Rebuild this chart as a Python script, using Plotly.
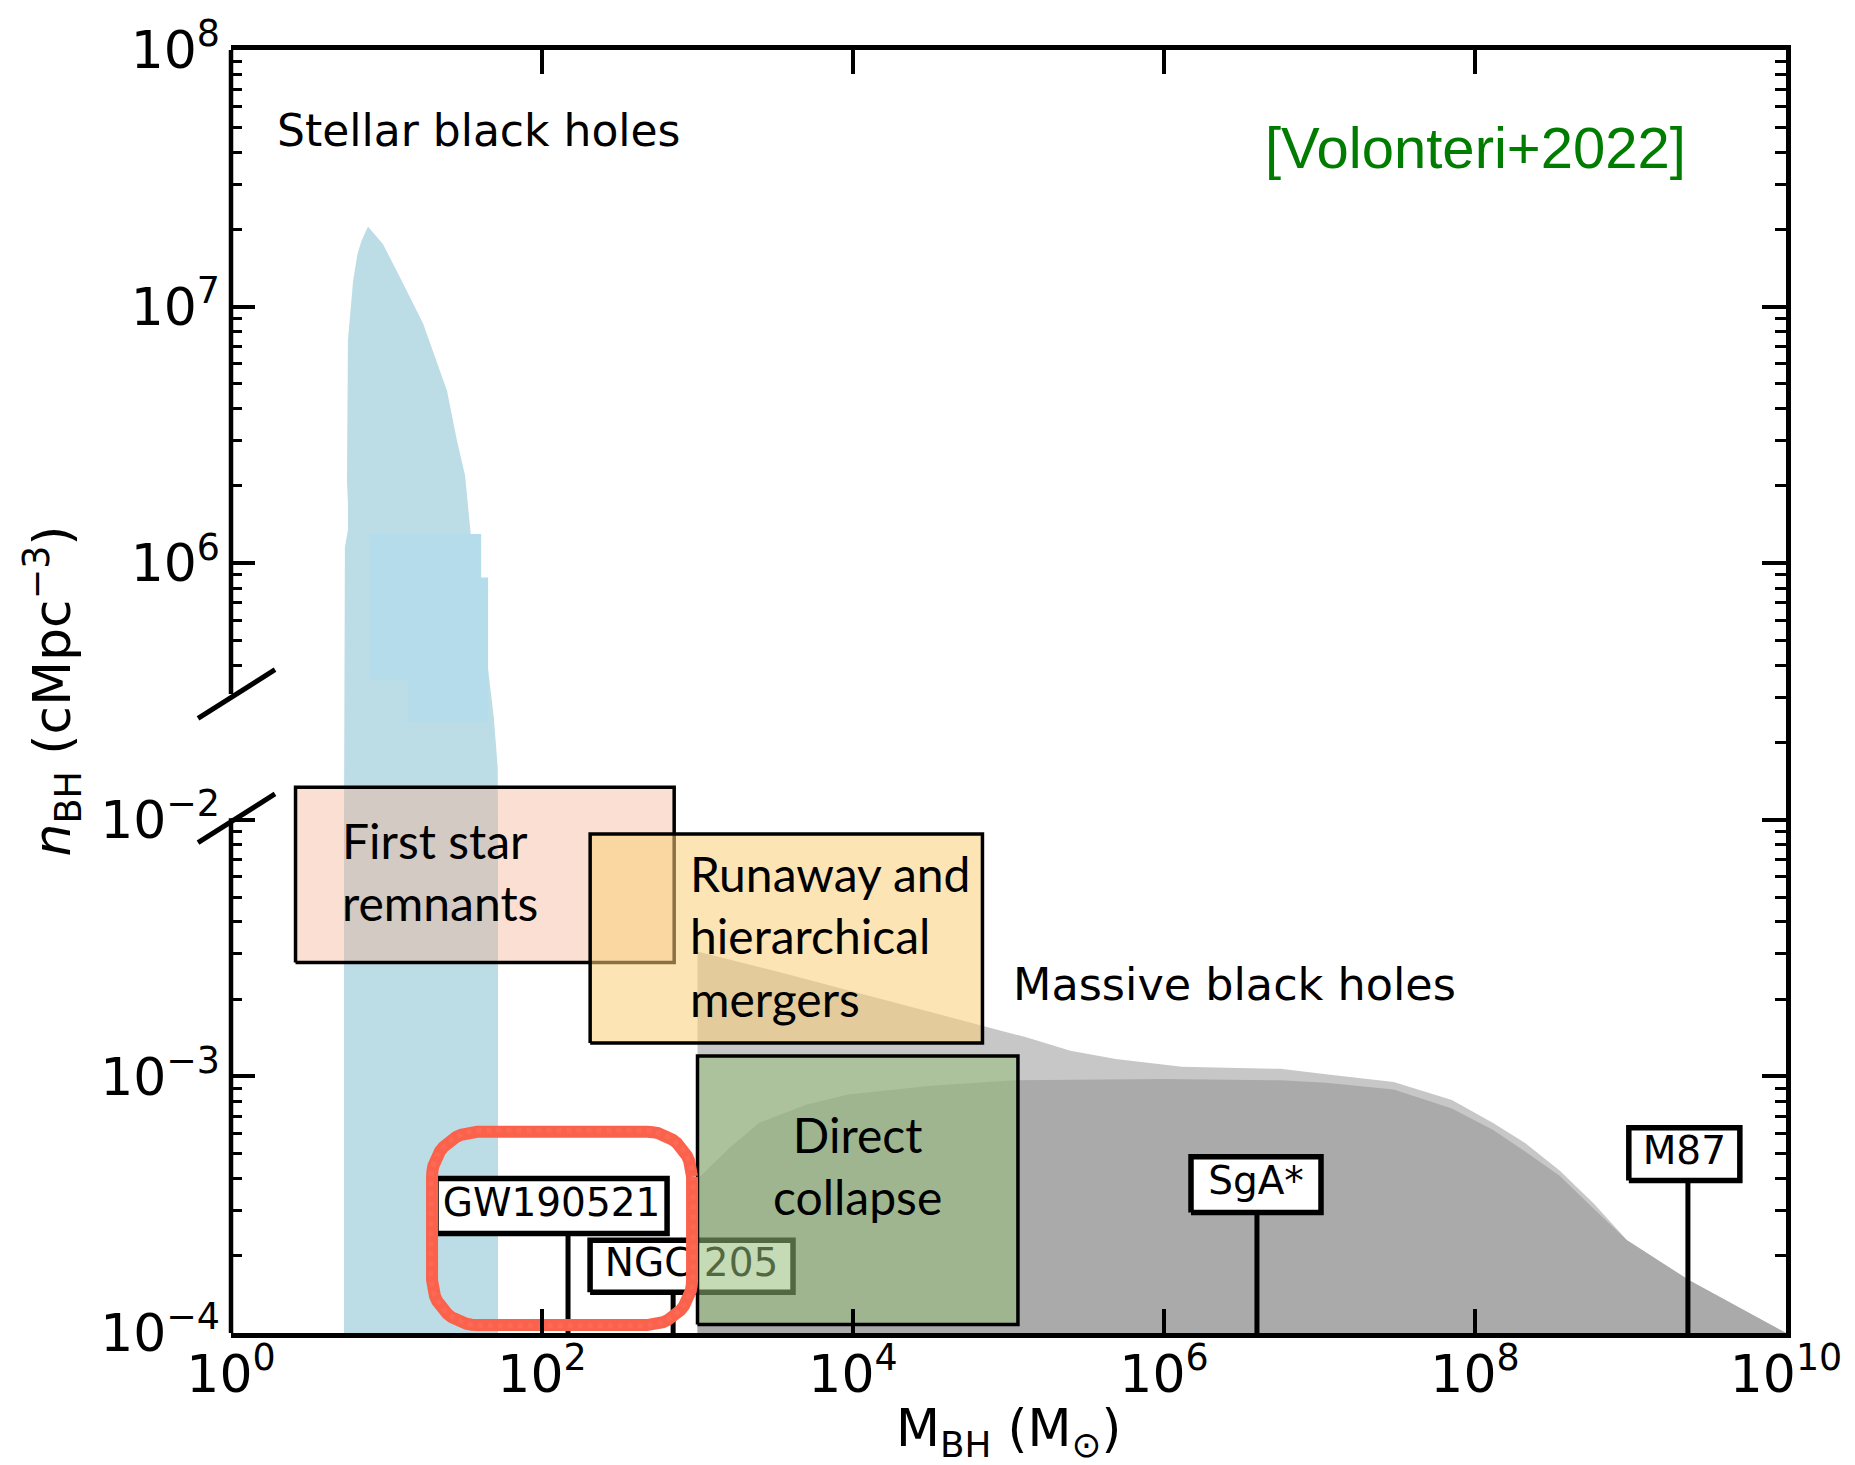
import numpy as np
import plotly.graph_objects as go

# ---------------------------------------------------------------- data
# Stellar black holes: upper envelope (upper y-segment, cMpc^-3)
stellar_M_upper = [5.4, 5.65, 5.65, 5.57, 5.65, 6.1, 6.5, 6.9, 7.6, 8.5, 9.5, 12.2,
                   17.2, 24.5, 28.4, 32.0, 34.4, 36.3, 39.8, 44.7, 49.0, 51.9]
stellar_n_upper = [1.15e6, 1.35e6, 1.7e6, 2.1e6, 7.4e6, 1.26e7, 1.6e7, 1.8e7, 2.05e7,
                   1.9e7, 1.75e7, 1.3e7, 8.6e6, 4.7e6, 3.0e6, 2.2e6, 1.45e6, 1.0e6,
                   6.3e5, 4.0e5, 2.5e5, 1.6e5]
# Stellar black holes: band in the lower y-segment
stellar_M_band = [5.33, 52.1]
stellar_n_band = [1e-4, 1e-2]
# lighter patch inside the stellar region
patch_M = [7.83, 40.6, 40.6, 45.0, 45.0, 13.7, 13.7, 7.83]
patch_n = [1.3e6, 1.3e6, 8.8e5, 8.8e5, 2.4e5, 2.4e5, 3.5e5, 3.5e5]

# Massive black holes: outer (light) envelope
massive_M_outer = [1e3, 3.2e3, 1e4, 3.2e4, 6.9e4, 1.3e5, 2.5e5, 4.9e5, 1.3e6, 5.6e6,
                   1.1e7, 3.0e7, 7.1e7, 1.3e8, 2.1e8, 3.5e8, 5.8e8, 9.5e8, 2.4e9, 1e10]
massive_n_outer = [3.07e-3, 2.57e-3, 2.14e-3, 1.78e-3, 1.57e-3, 1.42e-3, 1.26e-3, 1.17e-3,
                   1.09e-3, 1.07e-3, 1.02e-3, 9.5e-4, 8.1e-4, 6.6e-4, 5.5e-4, 4.3e-4,
                   3.2e-4, 2.3e-4, 1.6e-4, 1e-4]
# Massive black holes: inner (dark) envelope
massive_M_inner = [1e3, 1.6e3, 2.5e3, 5e3, 9.3e3, 3.2e4, 1.1e5, 1e6, 5.6e6, 1.1e7, 3.0e7,
                   7.1e7, 1.3e8, 2.1e8, 3.5e8, 5.8e8, 9.5e8, 2.4e9, 1e10]
massive_n_inner = [3.98e-4, 5.25e-4, 6.6e-4, 7.76e-4, 8.5e-4, 9.2e-4, 9.66e-4, 9.77e-4,
                   9.66e-4, 9.44e-4, 8.9e-4, 7.5e-4, 6.2e-4, 5.1e-4, 4.1e-4, 3.05e-4,
                   2.3e-4, 1.6e-4, 1e-4]

# Formation channels (boxes)
channel_names = ["First star<br>remnants", "Runaway and<br>hierarchical<br>mergers",
                 "Direct<br>collapse"]
channel_M_lo = [2.6, 204, 1.0e3]
channel_M_hi = [708, 6.8e4, 1.15e5]
channel_n_lo = [2.78e-3, 1.35e-3, 1.08e-4]
channel_n_hi = [1.34e-2, 8.8e-3, 1.2e-3]

# Individual objects
object_names = ["GW190521", "NGC 205", "SgA*", "M87"]
object_M = [147, 697, 3.96e6, 2.34e9]

# Ticks
x_tickvals = [1e0, 1e2, 1e4, 1e6, 1e8, 1e10]
x_ticktext = ["10<sup>0</sup>", "10<sup>2</sup>", "10<sup>4</sup>", "10<sup>6</sup>",
              "10<sup>8</sup>", "10<sup>10</sup>"]
y_tickvals = [1e-4, 1e-3, 1e-2, 1e6, 1e7, 1e8]
y_ticktext = ["10<sup>−4</sup>", "10<sup>−3</sup>", "10<sup>−2</sup>",
              "10<sup>6</sup>", "10<sup>7</sup>", "10<sup>8</sup>"]
y_minor_left = ([k * 1e-4 for k in range(2, 10)] + [k * 1e-3 for k in range(2, 10)] +
                [k * 1e5 for k in range(4, 10)] + [k * 1e6 for k in range(2, 10)] +
                [k * 1e7 for k in range(2, 10)])
y_minor_right = ([k * 1e-4 for k in range(2, 10)] + [k * 1e-3 for k in range(2, 10)] +
                 [k * 1e5 for k in range(2, 10)] + [k * 1e6 for k in range(2, 10)] +
                 [k * 1e7 for k in range(2, 10)])


# ------------------------------------------------ broken y-axis transform
def yv(n):
    """lower segment 1e-4..1e-2 -> 0..2, upper segment 1e5..1e8 -> 2..5"""
    L = np.log10(np.asarray(n, dtype=float))
    return np.where(L < 0, L + 4.0, L - 3.0)


FONT = "DejaVu Sans"
fig = go.Figure()

# stellar black holes
st_M = [stellar_M_band[0], stellar_M_band[0]] + stellar_M_upper + [stellar_M_band[1], stellar_M_band[1]]
st_n = [stellar_n_band[0], stellar_n_band[1]] + stellar_n_upper + [stellar_n_band[1], stellar_n_band[0]]
fig.add_trace(go.Scatter(x=st_M, y=yv(st_n), mode="lines", fill="toself",
                         fillcolor="rgb(188,221,230)", line=dict(width=0),
                         hoverinfo="skip"))
fig.add_trace(go.Scatter(x=patch_M, y=yv(patch_n), mode="lines", fill="toself",
                         fillcolor="rgb(180,220,235)", line=dict(width=0),
                         hoverinfo="skip"))

# massive black holes
for Ms, ns, col in [(massive_M_outer, massive_n_outer, "rgb(199,199,199)"),
                    (massive_M_inner, massive_n_inner, "rgb(170,170,170)")]:
    xs = [Ms[0]] + Ms + [Ms[-1]]
    ys = [1e-4] + ns + [1e-4]
    fig.add_trace(go.Scatter(x=xs, y=yv(ys), mode="lines", fill="toself",
                             fillcolor=col, line=dict(width=0), hoverinfo="skip"))

channel_fill = ["rgba(245,175,145,0.40)", "rgba(250,205,120,0.55)", "rgba(150,190,120,0.55)"]


def add_box(i):
    x0, x1 = channel_M_lo[i], channel_M_hi[i]
    y0, y1 = yv(channel_n_lo[i]), yv(channel_n_hi[i])
    fig.add_trace(go.Scatter(x=[x0, x1, x1, x0, x0], y=[y0, y0, y1, y1, y0],
                             mode="lines", fill="toself", fillcolor=channel_fill[i],
                             line=dict(color="black", width=3.5), hoverinfo="skip"))


# label box geometry: offsets (decades) of box edges from the stem, and box v-extent
label_box = {
    "GW190521": dict(dx=(-0.849, 0.637), v=(0.388, 0.602)),
    "NGC 205": dict(dx=(-0.534, 0.771), v=(0.159, 0.361)),
    "SgA*": dict(dx=(-0.424, 0.412), v=(0.470, 0.687)),
    "M87": dict(dx=(-0.380, 0.334), v=(0.594, 0.800)),
}


def add_label(name):
    i = object_names.index(name)
    lm = np.log10(object_M[i])
    g = label_box[name]
    bx0, bx1 = 10 ** (lm + g["dx"][0]), 10 ** (lm + g["dx"][1])
    by0, by1 = g["v"]
    fig.add_trace(go.Scatter(x=[object_M[i], object_M[i]], y=[yv(1e-4), by0], mode="lines",
                             line=dict(color="black", width=5), hoverinfo="skip"))
    fig.add_trace(go.Scatter(x=[bx0, bx1, bx1, bx0, bx0], y=[by0, by0, by1, by1, by0],
                             mode="lines", fill="toself", fillcolor="white",
                             line=dict(color="black", width=5.5), hoverinfo="skip"))
    fig.add_trace(go.Scatter(x=[10 ** ((np.log10(bx0) + np.log10(bx1)) / 2)],
                             y=[(by0 + by1) / 2], mode="text", text=[name],
                             textposition="middle center",
                             textfont=dict(family=FONT, size=39, color="black"),
                             hoverinfo="skip"))


add_box(0)
add_box(1)
add_label("NGC 205")
add_label("GW190521")
add_box(2)
add_label("SgA*")
add_label("M87")


# red hand-drawn highlight (rounded rectangle)
def rounded_rect(lx0, lx1, v0, v1, rx, ry, n=14):
    xs, ys = [], []
    corners = [(lx1 - rx, v1 - ry, 0, 90), (lx0 + rx, v1 - ry, 90, 180),
               (lx0 + rx, v0 + ry, 180, 270), (lx1 - rx, v0 + ry, 270, 360)]
    for cx, cy, a0, a1 in corners:
        for t in np.linspace(np.radians(a0), np.radians(a1), n):
            xs.append(10 ** (cx + rx * np.cos(t)))
            ys.append(cy + ry * np.sin(t))
    xs.append(xs[0]); ys.append(ys[0])
    return xs, ys


px_dec_x = 1555 / 10.0
px_unit_y = 1288 / 5.0
hx, hy = rounded_rect(1.293, 2.965, 0.031, 0.784, 45 / px_dec_x, 45 / px_unit_y)
fig.add_trace(go.Scatter(x=hx, y=hy, mode="lines",
                         line=dict(color="rgb(250,98,76)", width=12), hoverinfo="skip"))
hx2, hy2 = rounded_rect(1.285, 2.972, 0.028, 0.790, 50 / px_dec_x, 50 / px_unit_y)
fig.add_trace(go.Scatter(x=hx2, y=hy2, mode="lines", opacity=0.6,
                         line=dict(color="rgb(255,110,90)", width=5, dash="dot"),
                         hoverinfo="skip"))

# dummy trace for right axis
fig.add_trace(go.Scatter(x=[1e5], y=[1], yaxis="y2", mode="markers",
                         marker=dict(opacity=0), hoverinfo="skip"))

# ---------------------------------------------------------------- axes
tick_font = dict(family=FONT, size=52, color="black")
fig.update_layout(
    width=1855, height=1465, autosize=False,
    margin=dict(l=231, r=69, t=45, b=132),
    paper_bgcolor="white", plot_bgcolor="white", showlegend=False,
    xaxis=dict(type="log", range=[0, 10], tickvals=x_tickvals, ticktext=x_ticktext,
               ticks="inside", ticklen=24, tickwidth=3.5, tickcolor="black",
               showline=True, linewidth=4.5, linecolor="black", mirror="ticks",
               showgrid=False, zeroline=False, tickfont=tick_font, ticklabelstandoff=-8),
    yaxis=dict(range=[0, 5], tickvals=list(yv(y_tickvals)), ticktext=y_ticktext,
               ticks="inside", ticklen=24, tickwidth=3.5, tickcolor="black",
               minor=dict(tickvals=list(yv(y_minor_left)), ticks="inside", ticklen=11,
                          tickwidth=3, tickcolor="black"),
               showline=False, showgrid=False, zeroline=False, tickfont=tick_font,
               ticklabelstandoff=10),
    yaxis2=dict(range=[0, 5], overlaying="y", side="right", tickvals=list(yv(y_tickvals)),
                showticklabels=False, ticks="inside", ticklen=24, tickwidth=3.5,
                tickcolor="black",
                minor=dict(tickvals=list(yv(y_minor_right)), ticks="inside", ticklen=11,
                           tickwidth=3, tickcolor="black"),
                showline=True, linewidth=4.5, linecolor="black",
                showgrid=False, zeroline=False),
)

# left axis line with a break
brk_lo, brk_hi = 2.006, 2.49
for a, b in [(0, brk_lo), (brk_hi, 5)]:
    fig.add_shape(type="line", xref="paper", yref="y", x0=0, x1=0, y0=a, y1=b,
                  line=dict(color="black", width=4.5), layer="above")
for c in (brk_lo, brk_hi):
    fig.add_shape(type="line", xref="paper", yref="y", x0=-0.0212, x1=0.0283,
                  y0=c - 0.095, y1=c + 0.095, line=dict(color="black", width=5),
                  layer="above")

# ---------------------------------------------------------------- text
ann = []
ann.append(dict(x=0.283, y=4.685, xref="x", yref="y", text="Stellar black holes",
                xanchor="left", yanchor="middle", showarrow=False,
                font=dict(family=FONT, size=44, color="black")))
ann.append(dict(x=5.016, y=1.36, xref="x", yref="y", text="Massive black holes",
                xanchor="left", yanchor="middle", showarrow=False,
                font=dict(family=FONT, size=44.5, color="black")))
ann.append(dict(x=8.0, y=4.62, xref="x", yref="y", text="[Volonteri+2022]",
                xanchor="center", yanchor="middle", showarrow=False,
                font=dict(family="Liberation Sans", size=58, color="rgb(0,125,0)")))
box_font = dict(family="Lato", size=48, color="black")
ann.append(dict(x=0.70, y=1.80, xref="x", yref="y", text=channel_names[0],
                xanchor="left", yanchor="middle", align="left", showarrow=False,
                font=box_font))
ann.append(dict(x=2.94, y=1.549, xref="x", yref="y", text=channel_names[1],
                xanchor="left", yanchor="middle", align="left", showarrow=False,
                font=box_font))
ann.append(dict(x=4.032, y=0.652, xref="x", yref="y", text=channel_names[2],
                xanchor="center", yanchor="middle", align="center", showarrow=False,
                font=box_font))
ann.append(dict(x=0.5, y=-0.077, xref="paper", yref="paper",
                text="M<sub>BH</sub> (M<sub>⊙</sub>)", xanchor="center", yanchor="middle",
                showarrow=False, font=dict(family=FONT, size=51, color="black")))
ann.append(dict(x=-0.1151, y=0.5, xref="paper", yref="paper",
                text="<i>n</i><sub>BH</sub> (cMpc<sup>−3</sup>)", textangle=-90,
                xanchor="center", yanchor="middle", showarrow=False,
                font=dict(family=FONT, size=52, color="black")))
fig.update_layout(annotations=ann)

fig.write_html("out.html")
